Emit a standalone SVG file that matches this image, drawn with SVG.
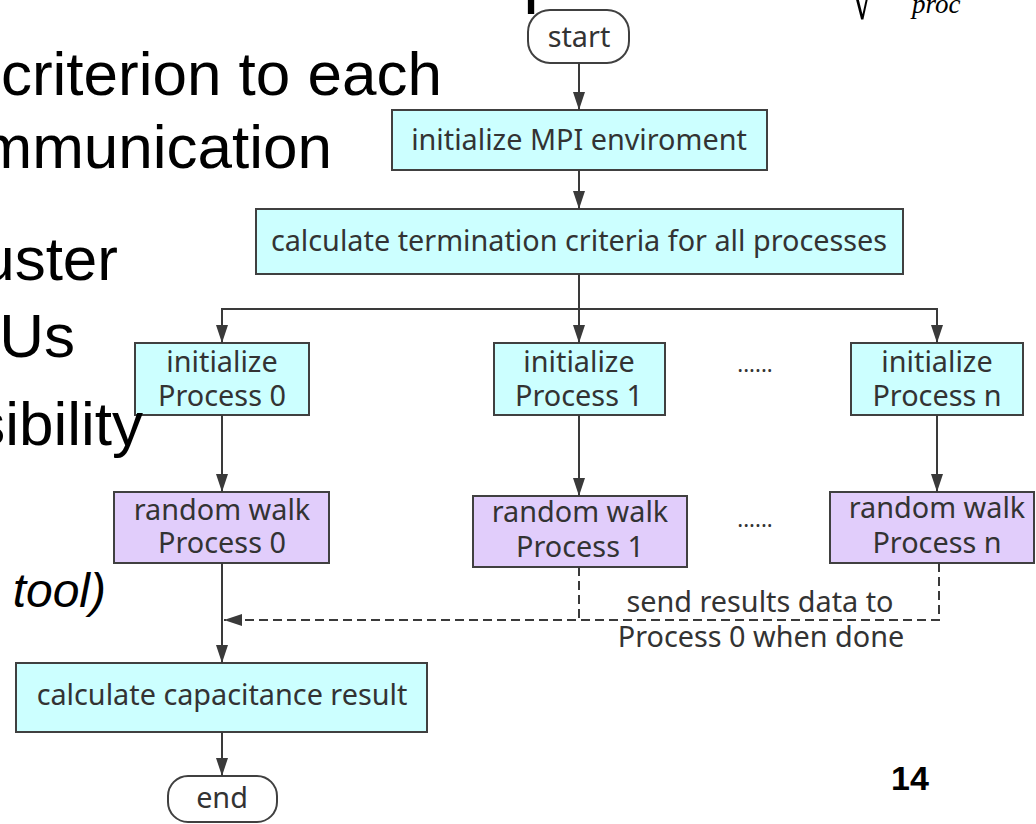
<svg xmlns="http://www.w3.org/2000/svg" width="1036" height="824" viewBox="0 0 1036 824">
  <defs>
    <marker id="arrow" viewBox="0 0 18 12" refX="18" refY="6" markerWidth="18" markerHeight="12" markerUnits="userSpaceOnUse" orient="auto">
      <path d="M0,0 L18,6 L0,12 Z" fill="#3a3a3a"/>
    </marker>
    <style>
      .slide{font-family:"Liberation Sans",Arial,sans-serif;fill:#000;font-size:62px}
      .node rect{stroke:#404040;stroke-width:2}
      .init{fill:#ccffff}
      .walk{fill:#e1cdfb}
      .term{fill:#ffffff}
      .lbl{font-family:"Noto Sans","Open Sans",sans-serif;font-size:28.8px;fill:#333333;text-anchor:middle}
      .dots{font-family:"Noto Sans","Open Sans",sans-serif;font-size:22px;fill:#333333;text-anchor:middle}
      .edge{stroke:#3a3a3a;stroke-width:2;fill:none}
      .dash{stroke-dasharray:9 5}
      .math{font-family:"Liberation Serif","Times New Roman",serif;fill:#000}
    </style>
  </defs>
  <rect width="1036" height="824" fill="#ffffff"/>

  <!-- flowchart nodes -->
  <g id="start" class="node">
    <rect class="term" x="528" y="10" width="101" height="53" rx="22"/>
    <text class="lbl" x="579" y="47">start</text>
  </g>
  <g id="init-mpi" class="node">
    <rect class="init" x="392" y="110" width="375" height="60"/>
    <text class="lbl" x="579" y="150">initialize MPI enviroment</text>
  </g>
  <g id="calc-termination" class="node">
    <rect class="init" x="256" y="209" width="647" height="65"/>
    <text class="lbl" x="579" y="251">calculate termination criteria for all processes</text>
  </g>
  <g id="init-p0" class="node">
    <rect class="init" x="135" y="343" width="174" height="72"/>
    <text class="lbl" x="222" y="372">initialize</text>
    <text class="lbl" x="222" y="406">Process 0</text>
  </g>
  <g id="init-p1" class="node">
    <rect class="init" x="494" y="343" width="171" height="72"/>
    <text class="lbl" x="579" y="372">initialize</text>
    <text class="lbl" x="579" y="406">Process 1</text>
  </g>
  <g id="init-dots" class="node">
    <text class="dots" x="755" y="372">......</text>
  </g>
  <g id="init-pn" class="node">
    <rect class="init" x="851" y="343" width="172" height="72"/>
    <text class="lbl" x="937" y="372">initialize</text>
    <text class="lbl" x="937" y="406">Process n</text>
  </g>
  <g id="walk-p0" class="node">
    <rect class="walk" x="114" y="492" width="215" height="71"/>
    <text class="lbl" x="222" y="520">random walk</text>
    <text class="lbl" x="222" y="553">Process 0</text>
  </g>
  <g id="walk-p1" class="node">
    <rect class="walk" x="473" y="496" width="214" height="71"/>
    <text class="lbl" x="580" y="522">random walk</text>
    <text class="lbl" x="580" y="557">Process 1</text>
  </g>
  <g id="walk-dots" class="node">
    <text class="dots" x="755" y="527">......</text>
  </g>
  <g id="walk-pn" class="node">
    <rect class="walk" x="830" y="492" width="204" height="71"/>
    <text class="lbl" x="937" y="518">random walk</text>
    <text class="lbl" x="937" y="553">Process n</text>
  </g>
  <g id="calc-capacitance" class="node">
    <rect class="init" x="16" y="663" width="411" height="69"/>
    <text class="lbl" x="222" y="705">calculate capacitance result</text>
  </g>
  <g id="end" class="node">
    <rect class="term" x="168" y="776" width="109" height="46" rx="20"/>
    <text class="lbl" x="222" y="808">end</text>
  </g>

  <!-- connectors -->
  <g id="connectors">
    <line class="edge" x1="579" y1="63" x2="579" y2="110" marker-end="url(#arrow)"/>
    <line class="edge" x1="579" y1="170" x2="579" y2="209" marker-end="url(#arrow)"/>
    <line class="edge" x1="579" y1="274" x2="579" y2="343" marker-end="url(#arrow)"/>
    <polyline class="edge" points="579,309 222,309 222,343" marker-end="url(#arrow)"/>
    <polyline class="edge" points="579,309 937,309 937,343" marker-end="url(#arrow)"/>
    <line class="edge" x1="222" y1="415" x2="222" y2="492" marker-end="url(#arrow)"/>
    <line class="edge" x1="579" y1="415" x2="579" y2="496" marker-end="url(#arrow)"/>
    <line class="edge" x1="937" y1="415" x2="937" y2="492" marker-end="url(#arrow)"/>
    <line class="edge" x1="222" y1="563" x2="222" y2="663" marker-end="url(#arrow)"/>
    <polyline class="edge dash" points="579,567 579,620"/>
    <polyline class="edge dash" points="939,563 939,620 224,620" marker-end="url(#arrow)"/>
    <line class="edge" x1="222" y1="732" x2="222" y2="776" marker-end="url(#arrow)"/>
    <text class="lbl" x="760" y="612">send results data to</text>
    <text class="lbl" x="761" y="647">Process 0 when done</text>
  </g>

  <!-- slide text around the chart -->
  <text class="slide" x="523" y="-1" style="font-size:72px">p</text>
  <text class="math" x="850" y="13.6" transform="scale(1,1.4)" style="font-size:44px">√</text>
  <text class="math" x="912" y="13" style="font-size:27px;font-style:italic">proc</text>
  <text class="slide" x="442" y="95" text-anchor="end">criterion to each</text>
  <text class="slide" x="332" y="168" text-anchor="end">mmunication</text>
  <text class="slide" x="118" y="280" text-anchor="end">uster</text>
  <text class="slide" x="75" y="357" text-anchor="end">Us</text>
  <text class="slide" x="143" y="445" text-anchor="end">sibility</text>
  <text class="slide" x="106" y="607" text-anchor="end" style="font-size:48px;font-style:italic">tool)</text>
  <text class="slide" x="891" y="790" style="font-size:34px;font-weight:bold">14</text>
</svg>
